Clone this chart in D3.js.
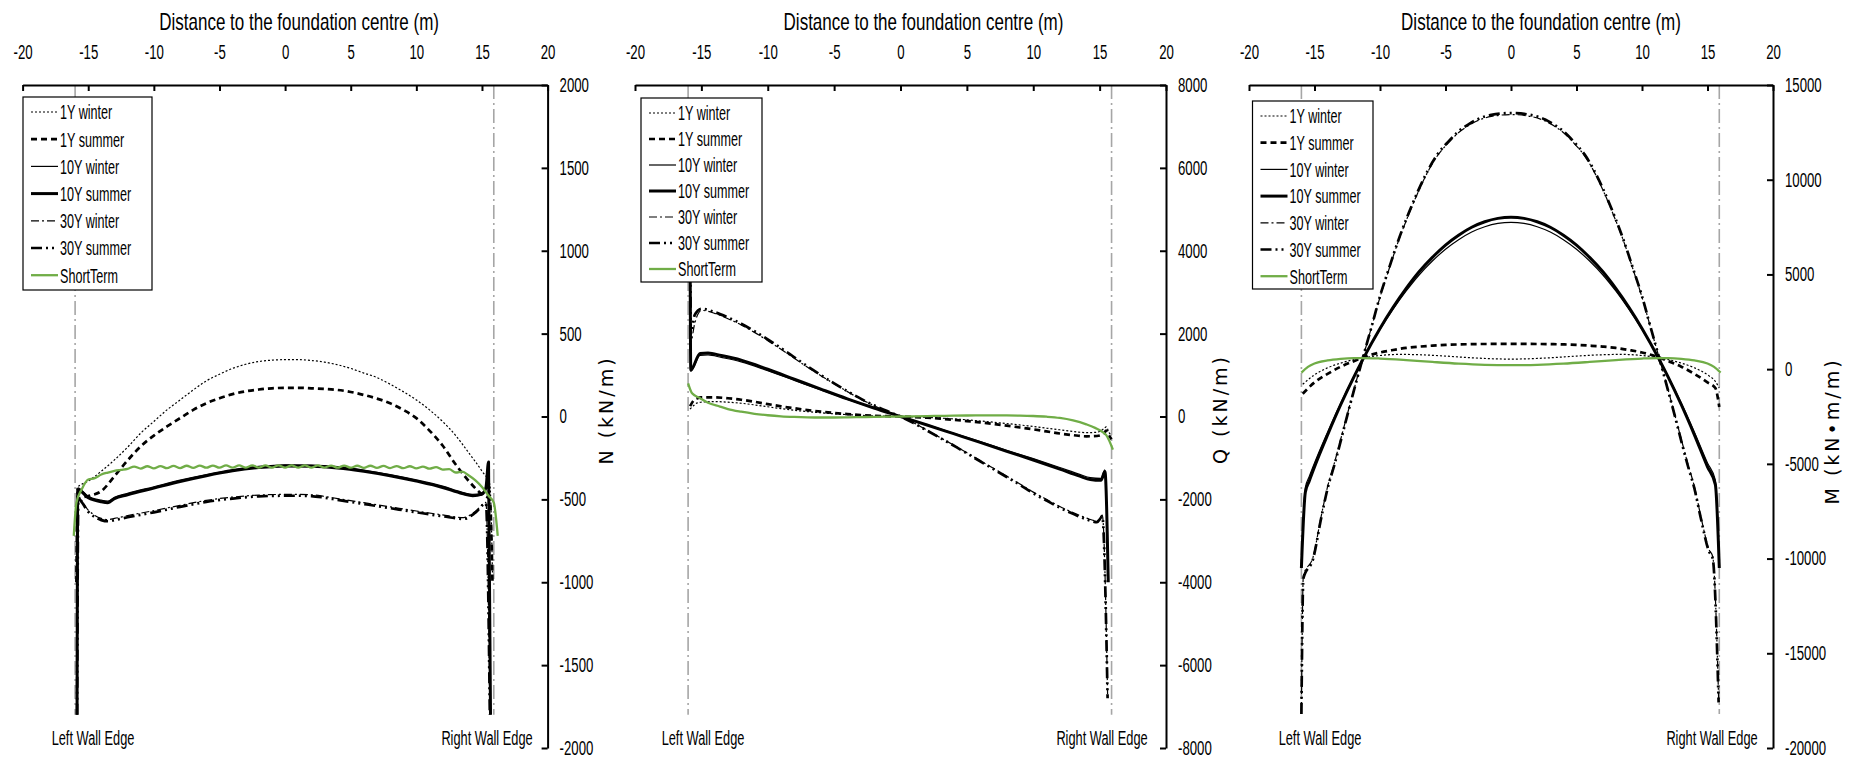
<!DOCTYPE html>
<html><head><meta charset="utf-8">
<script src="https://cdn.jsdelivr.net/npm/d3@7"></script>
<style>
body{margin:0;background:#fff;}
svg{display:block;}
.lbl{font-family:"Liberation Sans","Arial",sans-serif;fill:#000;}
.ytitle{font-family:"DejaVu Sans",Verdana,sans-serif;fill:#000;}
</style></head><body>
<svg id="chart" width="1856" height="760"></svg>
<script>
// ---------- texts & ticks ----------
const xTickValues = [-20,-15,-10,-5,0,5,10,15,20];
const xAxisTitle = "Distance to the foundation centre (m)";
const seriesNames = ["1Y winter","1Y summer","10Y winter","10Y summer","30Y winter","30Y summer","ShortTerm"];
const yTicksN = [-2000,-1500,-1000,-500,0,500,1000,1500,2000];
const yTicksQ = [-8000,-6000,-4000,-2000,0,2000,4000,6000,8000];
const yTicksM = [-20000,-15000,-10000,-5000,0,5000,10000,15000];
const yTitles = ["N (kN/m)","Q (kN/m)","M (kN\u2022m/m)"];
const wallLabels = ["Left Wall Edge","Right Wall Edge"];
const wallX = [-16, 15.9];

// ---------- Panel N (kN/m) ----------
const N_1Y_winter = [[-15.9,-950],[-15.85,-430],[-15,-390],[-14,-330],[-13,-262],[-12,-185],[-11,-100],[-10,-30],[-9,40],[-8,100],[-7,160],[-6,215],[-5,255],[-4,290],[-3,315],[-2,332],[-1,340],[0,343],[1,343],[2,338],[3,328],[4,312],[5,290],[6,262],[7,235],[8,195],[9,150],[10,100],[11,40],[12,-30],[13,-115],[14,-220],[15,-330],[15.6,-410],[15.8,-950]];
const N_1Y_summer = [[-15.9,-1000],[-15.8,-500],[-15,-480],[-14,-450],[-13,-360],[-12,-265],[-11,-180],[-10,-115],[-9,-60],[-8,-10],[-7,40],[-6,80],[-5,110],[-4,135],[-3,152],[-2,163],[-1,170],[0,173],[1,173],[2,170],[3,166],[4,160],[5,148],[6,130],[7,108],[8,80],[9,40],[10,-10],[11,-85],[12,-175],[13,-290],[14,-390],[15,-470],[15.6,-500],[15.8,-1000]];
const N_10Y_winter = [[-15.85,-1780],[-15.8,-430],[-15,-482],[-14,-505],[-13.5,-510],[-13,-487],[-12,-464],[-10,-424],[-8,-384],[-6,-350],[-4,-321],[-2,-301],[0,-291],[2,-293],[4,-303],[6,-323],[8,-350],[10,-382],[12,-420],[13.5,-457],[14.3,-470],[15,-460],[15.3,-425],[15.5,-285],[15.65,-1780]];
const N_10Y_summer = [[-15.85,-1800],[-15.8,-440],[-15,-490],[-14,-515],[-13.5,-520],[-13,-495],[-12,-472],[-10,-432],[-8,-392],[-6,-357],[-4,-328],[-2,-308],[0,-298],[2,-300],[4,-310],[6,-330],[8,-357],[10,-390],[12,-428],[13.5,-465],[14.3,-478],[15,-468],[15.3,-430],[15.5,-275],[15.65,-1800]];
const N_30Y_winter = [[-15.85,-1790],[-15.75,-490],[-15,-565],[-14,-615],[-13.5,-622],[-13,-615],[-12,-598],[-10,-568],[-8,-536],[-6,-506],[-4,-486],[-2,-474],[0,-470],[1,-470],[2,-472],[3,-482],[4,-495],[6,-520],[8,-545],[10,-570],[12,-594],[13.6,-610],[14.5,-572],[15.3,-518],[15.6,-1790]];
const N_30Y_summer = [[-15.85,-1800],[-15.75,-500],[-15,-575],[-14,-625],[-13.5,-632],[-13,-625],[-12,-608],[-10,-578],[-8,-545],[-6,-515],[-4,-495],[-2,-482],[0,-478],[1,-478],[2,-480],[3,-490],[4,-503],[6,-528],[8,-553],[10,-578],[12,-602],[13.6,-618],[14.5,-580],[15.3,-525],[15.6,-1800]];
const N_ShortTerm = [[-16.1,-720],[-15.9,-520],[-15.5,-440],[-15,-380],[-14.5,-372],[-14,-350],[-13.5,-338],[-13,-328],[-12.5,-322],[-12,-316],[-11.5,-302],[-11,-314],[-10.5,-300],[-10,-313],[-9.5,-299],[-9,-312],[-8.5,-298],[-8,-311],[-7.5,-297],[-7,-310],[-6.5,-296],[-6,-309],[-5.5,-296],[-5,-309],[-4.5,-295],[-4,-308],[-3.5,-295],[-3,-308],[-2.5,-295],[-2,-308],[-1.5,-295],[-1,-308],[-0.5,-295],[0,-308],[0.5,-295],[1,-308],[1.5,-295],[2,-308],[2.5,-295],[3,-308],[3.5,-296],[4,-309],[4.5,-296],[5,-309],[5.5,-297],[6,-310],[6.5,-297],[7,-310],[7.5,-298],[8,-311],[8.5,-299],[9,-312],[9.5,-300],[10,-313],[10.5,-302],[11,-315],[11.5,-305],[12,-320],[12.5,-318],[13,-338],[13.5,-332],[14,-356],[14.5,-385],[15,-425],[15.5,-478],[15.9,-520],[16.2,-720]];

// ---------- Panel Q (kN/m) ----------
const Q_1Y_winter = [[-15.85,180],[-15.6,260],[-15.3,330],[-15,345],[-14,360],[-13,345],[-12,320],[-11,280],[-10,235],[-9,190],[-8,150],[-7,118],[-6,90],[-5,65],[-4,45],[-3,28],[-2,15],[-1,6],[0,0],[1,-10],[2,-22],[3,-38],[4,-58],[5,-80],[6,-108],[7,-138],[8,-170],[9,-205],[10,-240],[11,-280],[12,-320],[13,-360],[14,-390],[14.8,-380],[15.3,-300],[15.5,-250],[15.7,-380],[15.9,-470]];
const Q_1Y_summer = [[-15.85,250],[-15.6,380],[-15.3,440],[-15,460],[-14,462],[-13,440],[-12,405],[-11,355],[-10,300],[-9,245],[-8,198],[-7,155],[-6,118],[-5,85],[-4,58],[-3,35],[-2,18],[-1,7],[0,0],[1,-12],[2,-30],[3,-52],[4,-80],[5,-110],[6,-143],[7,-180],[8,-222],[9,-265],[10,-310],[11,-360],[12,-410],[13,-450],[14,-478],[14.8,-470],[15.3,-420],[15.5,-340],[15.7,-450],[15.9,-550]];
const Q_10Y_winter = [[-15.85,4150],[-15.8,1090],[-15.1,1475],[-14.5,1485],[-13.5,1425],[-12,1320],[-10,1105],[-8,873],[-6,640],[-4,412],[-2,199],[0,0],[2,-199],[4,-403],[6,-606],[8,-815],[10,-1018],[12,-1232],[13.5,-1397],[14.3,-1474],[15.1,-1494],[15.4,-1290],[15.65,-3900]];
const Q_10Y_summer = [[-15.85,4300],[-15.8,1120],[-15.1,1520],[-14.5,1530],[-13.5,1470],[-12,1360],[-10,1140],[-8,900],[-6,660],[-4,425],[-2,205],[0,0],[2,-205],[4,-415],[6,-625],[8,-840],[10,-1050],[12,-1270],[13.5,-1440],[14.3,-1520],[15.1,-1540],[15.4,-1330],[15.65,-4000]];
const Q_30Y_winter = [[-15.85,6600],[-15.8,1800],[-15.5,2250],[-15,2560],[-14,2490],[-13,2360],[-12,2210],[-11,2030],[-10,1830],[-9,1620],[-8,1405],[-7,1190],[-6,985],[-5,790],[-4,600],[-3,420],[-2,265],[-1,125],[0,0],[1,-155],[2,-330],[3,-510],[4,-690],[5,-875],[6,-1065],[7,-1250],[8,-1440],[9,-1630],[10,-1825],[11,-2000],[12,-2170],[13,-2320],[14,-2450],[14.8,-2520],[15.2,-2380],[15.6,-6700]];
const Q_30Y_summer = [[-15.85,6800],[-15.8,2000],[-15.5,2450],[-15,2600],[-14,2520],[-13,2390],[-12,2240],[-11,2060],[-10,1860],[-9,1650],[-8,1430],[-7,1210],[-6,1000],[-5,800],[-4,610],[-3,430],[-2,270],[-1,130],[0,0],[1,-160],[2,-340],[3,-520],[4,-700],[5,-890],[6,-1080],[7,-1270],[8,-1460],[9,-1650],[10,-1850],[11,-2030],[12,-2200],[13,-2350],[14,-2480],[14.8,-2550],[15.2,-2420],[15.6,-6800]];
const Q_ShortTerm = [[-16,800],[-15.7,560],[-15.1,440],[-14.5,330],[-13.6,240],[-13,180],[-12,115],[-11,65],[-10,30],[-9,5],[-8,-10],[-7,-20],[-6,-24],[-5,-24],[-4,-20],[-3,-14],[-2,-8],[-1,-3],[0,0],[1,5],[2,10],[3,15],[4,20],[5,24],[6,26],[7,27],[8,26],[9,22],[10,12],[11,-5],[12,-35],[13,-95],[14,-190],[14.7,-280],[15.2,-370],[15.5,-450],[16,-800]];

// ---------- Panel M (kN·m/m) ----------
const M_1Y_winter = [[-15.9,-800],[-15,-300],[-14,70],[-13,320],[-12,500],[-11.3,590],[-10,720],[-9,770],[-8.5,780],[-7,760],[-5,690],[-3,600],[-1,540],[0,530],[1,540],[3,600],[5,690],[7,760],[8.5,780],[9,770],[10,720],[11.3,590],[12,500],[13,320],[14,70],[15,-300],[15.6,-650],[15.9,-1000]];
const M_1Y_summer = [[-15.9,-1300],[-15,-700],[-14,-250],[-13,130],[-12,420],[-11.3,620],[-10,880],[-9,1010],[-8,1120],[-7,1190],[-6,1240],[-5,1280],[-4,1305],[-3,1320],[-2,1328],[0,1330],[2,1328],[3,1320],[4,1305],[5,1280],[6,1240],[7,1190],[8,1120],[9,1010],[10,880],[11.3,620],[12,420],[13,130],[14,-250],[15,-700],[15.6,-1000],[15.9,-2000]];
const M_10Y_winter = [[-16,-10300],[-15.7,-6250],[-15.4,-5670],[-15,-4955],[-14,-3326],[-13,-1793],[-12,-386],[-11.3,530],[-10,2092],[-9,3162],[-8,4126],[-7,4984],[-6,5707],[-5,6333],[-4,6835],[-3,7240],[-2,7519],[-1,7693],[0,7750],[1,7693],[2,7519],[3,7240],[4,6835],[5,6333],[6,5707],[7,4984],[8,4126],[9,3162],[10,2092],[11.3,530],[12,-386],[13,-1793],[14,-3326],[15,-4955],[15.6,-5860],[15.9,-10300]];
const M_10Y_summer = [[-16,-10500],[-15.7,-6500],[-15.4,-5900],[-15,-5160],[-14,-3470],[-13,-1880],[-12,-420],[-11.3,530],[-10,2150],[-9,3260],[-8,4260],[-7,5150],[-6,5900],[-5,6550],[-4,7070],[-3,7490],[-2,7780],[-1,7960],[0,8020],[1,7960],[2,7780],[3,7490],[4,7070],[5,6550],[6,5900],[7,5150],[8,4260],[9,3260],[10,2150],[11.3,530],[12,-420],[13,-1880],[14,-3470],[15,-5160],[15.6,-6100],[15.9,-10500]];
const M_30Y_winter = [[-16,-18000],[-15.85,-10900],[-15.1,-9900],[-14.5,-7800],[-14,-6200],[-13.5,-5000],[-13,-3700],[-12.5,-2400],[-12,-1100],[-11.3,620],[-10.6,2330],[-10,3800],[-9.3,5300],[-8.6,6750],[-7.8,8180],[-7.1,9330],[-6.3,10480],[-5.6,11280],[-4.8,11930],[-4.1,12430],[-3.3,12830],[-2.6,13100],[-1.5,13340],[0,13440],[1.5,13340],[2.6,13100],[3.3,12830],[4.1,12430],[4.8,11930],[5.6,11280],[6.3,10480],[7.1,9330],[7.8,8180],[8.6,6750],[9.3,5300],[10,3800],[10.6,2330],[11.3,620],[12,-1100],[12.5,-2400],[13,-3700],[13.5,-5000],[14,-6200],[14.5,-7800],[15.1,-9500],[15.4,-9900],[15.85,-17400]];
const M_30Y_summer = [[-16,-18200],[-15.85,-11050],[-15.1,-10000],[-14.5,-7900],[-14,-6300],[-13.5,-5100],[-13,-3800],[-12.5,-2450],[-12,-1150],[-11.3,620],[-10.6,2350],[-10,3850],[-9.3,5350],[-8.6,6800],[-7.8,8250],[-7.1,9400],[-6.3,10550],[-5.6,11350],[-4.8,12000],[-4.1,12500],[-3.3,12900],[-2.6,13180],[-1.5,13420],[0,13520],[1.5,13420],[2.6,13180],[3.3,12900],[4.1,12500],[4.8,12000],[5.6,11350],[6.3,10550],[7.1,9400],[7.8,8250],[8.6,6800],[9.3,5350],[10,3850],[10.6,2350],[11.3,620],[12,-1150],[12.5,-2450],[13,-3800],[13.5,-5100],[14,-6300],[14.5,-7900],[15.1,-9600],[15.4,-10000],[15.85,-17600]];
const M_ShortTerm = [[-16,-180],[-15.5,120],[-15,300],[-14,460],[-13,540],[-12,580],[-11.3,585],[-10,560],[-8,480],[-6,380],[-4,290],[-2,230],[0,210],[2,230],[4,290],[6,380],[8,480],[10,560],[11.3,585],[12,580],[13,540],[14,460],[15,300],[15.5,120],[16,-180]];

// ---------- styles ----------
const GREEN = "#70AD47";
const styles = [
  {stroke:"#000", width:1.2, dash:"2,2"},
  {stroke:"#000", width:2.7, dash:"6,4"},
  {stroke:"#000", width:1.2, dash:null},
  {stroke:"#000", width:3, dash:null},
  {stroke:"#000", width:1.2, dash:"8,3,2,3"},
  {stroke:"#000", width:2.7, dash:"11,4,2,4,2,4"},
  {stroke:GREEN, width:2.3, dash:null}
];

const TOP = 85, BOTTOM = 748;
const SX_TICK = 0.66, SX_TITLE = 0.74, SX_LEG = 0.6, SX_WALL = 0.64;
const FS_TICK = 20, FS_TITLE = 23, FS_LEG = 21, FS_WALL = 20;
const panels = [
  {L:22.6, R:547.6, yDomain:[-2000,2000], yTicks:yTicksN, title:yTitles[0], titleX:606, titleY:410,
   series:[N_1Y_winter,N_1Y_summer,N_10Y_winter,N_10Y_summer,N_30Y_winter,N_30Y_summer,N_ShortTerm],
   wallBottom:-1800, legend:{x:23,y:97,w:129,h:193,row:27.2}, leftLbl:93, rightLbl:487, xTitleDx:14},
  {L:635, R:1166, yDomain:[-8000,8000], yTicks:yTicksQ, title:yTitles[1], titleX:1220, titleY:409,
   series:[Q_1Y_winter,Q_1Y_summer,Q_10Y_winter,Q_10Y_summer,Q_30Y_winter,Q_30Y_summer,Q_ShortTerm],
   wallBottom:-7200, legend:{x:641,y:98,w:121,h:184,row:26}, leftLbl:703, rightLbl:1102, xTitleDx:23},
  {L:1249, R:1773, yDomain:[-20000,15000], yTicks:yTicksM, title:yTitles[2], titleX:1832, titleY:431,
   series:[M_1Y_winter,M_1Y_summer,M_10Y_winter,M_10Y_summer,M_30Y_winter,M_30Y_summer,M_ShortTerm],
   wallBottom:-18200, legend:{x:1252.5,y:101,w:120.5,h:188,row:26.7}, leftLbl:1320, rightLbl:1712, xTitleDx:30}
];

const svg = d3.select("#chart");
svg.append("rect").attr("width",1856).attr("height",760).attr("fill","#fff");

function addText(parent, x, y, str, size, sx, anchor){
  return parent.append("text").attr("class","lbl")
    .attr("transform",`translate(${x},${y}) scale(${sx},1)`)
    .attr("dy","0.35em").attr("text-anchor",anchor||"middle")
    .attr("font-size",size).text(str);
}

panels.forEach(p => {
  const x = d3.scaleLinear().domain([-20,20]).range([p.L,p.R]);
  const y = d3.scaleLinear().domain(p.yDomain).range([BOTTOM,TOP]);
  const g = svg.append("g");

  // wall lines
  wallX.forEach(wx => {
    g.append("line").attr("x1",x(wx)).attr("x2",x(wx))
      .attr("y1",y(p.yDomain[1])).attr("y2",y(p.wallBottom))
      .attr("stroke","#A6A6A6").attr("stroke-width",1.6)
      .attr("stroke-dasharray","14,4,2,4");
  });

  // series
  const line = d3.line().x(d=>x(d[0])).y(d=>y(d[1])).curve(d3.curveMonotoneX);
  p.series.forEach((s,i) => {
    const st = styles[i];
    g.append("path").attr("d",line(s)).attr("fill","none")
      .attr("stroke",st.stroke).attr("stroke-width",st.width)
      .attr("stroke-dasharray",st.dash).attr("stroke-linejoin","round");
  });

  // legend
  const lg = svg.append("g").attr("transform",`translate(${p.legend.x},${p.legend.y})`);
  lg.append("rect").attr("width",p.legend.w).attr("height",p.legend.h)
    .attr("fill","#fff").attr("stroke","#000").attr("stroke-width",1.2);
  seriesNames.forEach((nm,i) => {
    const cy = 15 + i*p.legend.row;
    const st = styles[i];
    lg.append("line").attr("x1",8).attr("x2",35).attr("y1",cy).attr("y2",cy)
      .attr("stroke",st.stroke).attr("stroke-width",st.width).attr("stroke-dasharray",st.dash);
    addText(lg, 37, cy, nm, FS_LEG, SX_LEG, "start");
  });

  // x axis (top)
  const xa = d3.axisTop(x).tickValues(xTickValues).tickSizeInner(-6).tickSizeOuter(0)
    .tickPadding(26).tickFormat(d=>String(d));
  const gx = svg.append("g").attr("transform",`translate(0,${TOP})`).call(xa);
  gx.attr("font-family",null).attr("font-size",null);
  gx.select(".domain").attr("stroke","#000").attr("stroke-width",2);
  gx.selectAll(".tick line").attr("stroke","#000").attr("stroke-width",2);
  gx.selectAll(".tick text").attr("class","lbl").attr("font-size",FS_TICK)
    .attr("transform",`scale(${SX_TICK},1)`);

  // y axis (right)
  const ya = d3.axisRight(y).tickValues(p.yTicks).tickSizeInner(-6).tickSizeOuter(0)
    .tickPadding(12).tickFormat(d=>String(d));
  const gy = svg.append("g").attr("transform",`translate(${p.R},0)`).call(ya);
  gy.attr("font-family",null).attr("font-size",null);
  gy.select(".domain").attr("stroke","#000").attr("stroke-width",2);
  gy.selectAll(".tick line").attr("stroke","#000").attr("stroke-width",2);
  gy.selectAll(".tick text").attr("class","lbl").attr("font-size",FS_TICK)
    .attr("x",12/SX_TICK).attr("transform",`scale(${SX_TICK},1)`);

  // x title
  addText(svg, (p.L+p.R)/2 + p.xTitleDx, 22, xAxisTitle, FS_TITLE, SX_TITLE, "middle");

  // y title
  svg.append("text").attr("class","ytitle")
    .attr("transform",`translate(${p.titleX},${p.titleY}) rotate(-90)`)
    .attr("text-anchor","middle").attr("dy","0.35em").attr("font-size",19)
    .attr("letter-spacing","3px").text(p.title);

  // wall labels
  addText(svg, p.leftLbl, 738, wallLabels[0], FS_WALL, SX_WALL, "middle");
  addText(svg, p.rightLbl, 738, wallLabels[1], FS_WALL, SX_WALL, "middle");
});
</script>
</body></html>
